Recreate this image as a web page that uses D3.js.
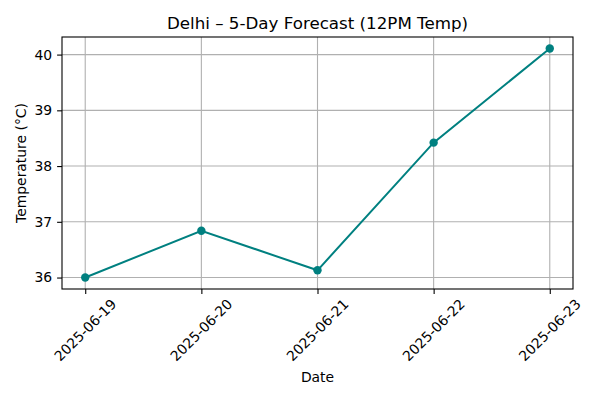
<!DOCTYPE html>
<html>
<head>
<meta charset="utf-8">
<script src="https://cdn.jsdelivr.net/npm/d3@7"></script>
<style>
  body { margin: 0; background: #fff; }
  text { font-family: "DejaVu Sans", sans-serif; fill: #000; }
</style>
</head>
<body>
<svg id="chart" width="600" height="400"></svg>
<script>
// data
var dates = ["2025-06-19", "2025-06-20", "2025-06-21", "2025-06-22", "2025-06-23"];
var temps = [36.00, 36.84, 36.13, 38.42, 40.11];
var yTicks = [36, 37, 38, 39, 40];

var svg = d3.select("#chart");
var m = {left: 62, right: 573, top: 37, bottom: 289};
var teal = "#008080";

var parse = d3.timeParse("%Y-%m-%d");
var days = dates.map(parse);
var pad = 0.2 * 864e5;

var x = d3.scaleTime()
  .domain([new Date(+days[0] - pad), new Date(+days[days.length - 1] + pad)])
  .range([m.left, m.right]);

var yMin = d3.min(temps), yMax = d3.max(temps);
var yPad = (yMax - yMin) * 0.05;
var y = d3.scaleLinear()
  .domain([yMin - yPad, yMax + yPad])
  .range([m.bottom, m.top]);

// grid
svg.append("g").selectAll("line.vg")
  .data(days).enter().append("line")
  .attr("x1", function(d) { return x(d); })
  .attr("x2", function(d) { return x(d); })
  .attr("y1", m.top).attr("y2", m.bottom)
  .attr("stroke", "#b0b0b0").attr("stroke-width", 1.1);

svg.append("g").selectAll("line.hg")
  .data(yTicks).enter().append("line")
  .attr("x1", m.left).attr("x2", m.right)
  .attr("y1", function(d) { return y(d); })
  .attr("y2", function(d) { return y(d); })
  .attr("stroke", "#b0b0b0").attr("stroke-width", 1.1);

// line + markers
var line = d3.line()
  .x(function(d, i) { return x(days[i]); })
  .y(function(d) { return y(d); });

svg.append("path")
  .datum(temps)
  .attr("d", line)
  .attr("fill", "none")
  .attr("stroke", teal)
  .attr("stroke-width", 2);

svg.append("g").selectAll("circle")
  .data(temps).enter().append("circle")
  .attr("cx", function(d, i) { return x(days[i]); })
  .attr("cy", function(d) { return y(d); })
  .attr("r", 4.2)
  .attr("fill", teal);

// spines
svg.append("rect")
  .attr("x", m.left).attr("y", m.top)
  .attr("width", m.right - m.left).attr("height", m.bottom - m.top)
  .attr("fill", "none").attr("stroke", "#000").attr("stroke-width", 1.1);

// y axis
var yAxis = d3.axisLeft(y).tickValues(yTicks).tickSize(4.9).tickPadding(4.9).tickFormat(d3.format("d"));
var gy = svg.append("g").attr("transform", "translate(" + m.left + ",0)").call(yAxis);
gy.select(".domain").remove();
gy.selectAll("text").style("font-size", "13.9px").attr("font-family", "DejaVu Sans");
gy.selectAll("line").attr("stroke-width", 1.1);

// x axis
var xAxis = d3.axisBottom(x).tickValues(days).tickSize(4.9).tickFormat(function() { return ""; });
var gx = svg.append("g").attr("transform", "translate(0," + m.bottom + ")").call(xAxis);
gx.select(".domain").remove();
gx.selectAll("line").attr("stroke-width", 1.1);

svg.append("g").selectAll("text.xl")
  .data(days).enter().append("text")
  .attr("transform", function(d) { return "translate(" + x(d) + ",330) rotate(-45)"; })
  .attr("text-anchor", "middle")
  .attr("dy", "0.35em")
  .style("font-size", "13.9px")
  .text(function(d, i) { return dates[i]; });

// labels
svg.append("text")
  .attr("x", (m.left + m.right) / 2).attr("y", 29)
  .attr("text-anchor", "middle")
  .style("font-size", "16.7px")
  .text("Delhi \u2013 5-Day Forecast (12PM Temp)");

svg.append("text")
  .attr("x", (m.left + m.right) / 2).attr("y", 382)
  .attr("text-anchor", "middle")
  .style("font-size", "13.9px")
  .text("Date");

svg.append("text")
  .attr("transform", "translate(26," + (m.top + m.bottom) / 2 + ") rotate(-90)")
  .attr("text-anchor", "middle")
  .style("font-size", "13.9px")
  .text("Temperature (\u00b0C)");
</script>
</body>
</html>
